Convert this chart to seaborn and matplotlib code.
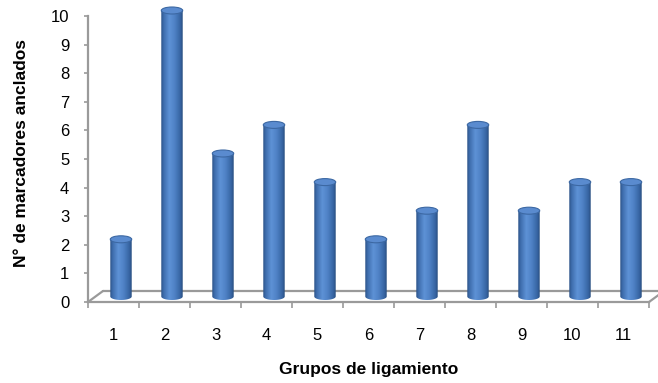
import numpy as np
import pandas as pd
import matplotlib
matplotlib.use("Agg")
import matplotlib.pyplot as plt
import seaborn as sns
from matplotlib.colors import LinearSegmentedColormap
from matplotlib.patches import Ellipse, PathPatch
from matplotlib.path import Path
from matplotlib.transforms import ScaledTranslation
from matplotlib.lines import Line2D

# Data
grupos = ["1", "2", "3", "4", "5", "6", "7", "8", "9", "10", "11"]
marcadores = [2, 10, 5, 6, 4, 2, 3, 6, 3, 4, 4]
y_ticks = list(range(0, 11))

sns.set_theme(style="white")
plt.rcParams["font.family"] = ["Liberation Sans", "DejaVu Sans"]

W, H = 658, 383
DPI = 100
fig = plt.figure(figsize=(W / DPI, H / DPI), dpi=DPI)

# plot area in pixels
x_left, x_right = 88, 649
y_zero = 302
px_per_unit = 28.6
y_top_val = 10.4
ax = fig.add_axes([x_left / W, (H - y_zero) / H,
                   (x_right - x_left) / W, y_top_val * px_per_unit / H])

df = pd.DataFrame({"grupo": grupos, "n": marcadores})
sns.barplot(data=df, x="grupo", y="n", color="#4F81BD", width=0.42,
            saturation=1, edgecolor="none", ax=ax)

grey = "#9A9A9A"
depth_px = (15, 11)
full_depth = ScaledTranslation(depth_px[0] / DPI, depth_px[1] / DPI, fig.dpi_scale_trans)
half_depth = ScaledTranslation(depth_px[0] / 2 / DPI, depth_px[1] / 2 / DPI, fig.dpi_scale_trans)

# floor: back edge and side diagonals
ax.plot([-0.5, 10.5], [0, 0], color=grey, lw=1.6, clip_on=False, zorder=1,
        transform=ax.transData + full_depth)
for xp in (x_left, x_right):
    fig.add_artist(Line2D([xp / W, (xp + depth_px[0]) / W],
                          [(H - y_zero) / H, (H - y_zero + depth_px[1]) / H],
                          color=grey, lw=1.6, transform=fig.transFigure))

# cylinder shading
cyl_cmap = LinearSegmentedColormap.from_list(
    "cyl", [(0.0, "#2B5286"), (0.12, "#3E6DAD"), (0.38, "#5E92D6"),
            (0.62, "#4F82C6"), (0.88, "#3765A3"), (1.0, "#284D7E")])
grad = np.linspace(0, 1, 128).reshape(1, -1)
ry = 3.5 / px_per_unit
tr = ax.transData + half_depth

for p in list(ax.patches):
    x0, w, h = p.get_x(), p.get_width(), p.get_height()
    xc = x0 + w / 2
    p.set_visible(False)
    t = np.linspace(np.pi, 2 * np.pi, 40)
    verts = [(x0, h), (x0, 0)]
    verts += list(zip(xc + (w / 2) * np.cos(t), ry * np.sin(t)))
    verts += [(x0 + w, 0), (x0 + w, h), (x0, h)]
    codes = [Path.MOVETO] + [Path.LINETO] * (len(verts) - 2) + [Path.CLOSEPOLY]
    body = PathPatch(Path(verts, codes), transform=tr, facecolor="none",
                     edgecolor="none")
    im = ax.imshow(grad, cmap=cyl_cmap, extent=[x0, x0 + w, -ry, h],
                   aspect="auto", transform=tr, zorder=3, interpolation="bilinear")
    im.set_clip_path(body)
    ax.add_patch(Ellipse((xc, h), w, 2 * ry, transform=tr, facecolor="#5A8BCF",
                         edgecolor="#3C68A3", lw=0.8, zorder=4, clip_on=False))

ax.set_xlim(-0.5, 10.5)
ax.set_ylim(0, y_top_val)
ax.set_yticks(y_ticks)
ax.set_yticklabels([str(v) for v in y_ticks])

for side in ("top", "right"):
    ax.spines[side].set_visible(False)
ax.spines["left"].set_bounds(0, 10)
ax.spines["left"].set_color(grey)
ax.spines["left"].set_linewidth(1.6)
ax.spines["bottom"].set_color(grey)
ax.spines["bottom"].set_linewidth(1.6)

ax.set_xticks(np.arange(-0.5, 11, 1), minor=True)
ax.tick_params(axis="x", which="major", length=0, pad=18.5, labelsize=12,
               labelcolor="black")
ax.tick_params(axis="x", which="minor", length=4.3, width=1.2, color=grey,
               direction="out", bottom=True)
ax.tick_params(axis="y", which="major", length=3, width=1.2, color=grey,
               direction="out", left=True, pad=10.5, labelsize=12,
               labelcolor="black")

ax.set_xlabel("Grupos de ligamiento", fontsize=12.5, fontweight="bold",
              labelpad=14, color="black")
ax.set_ylabel("N° de marcadores anclados", fontsize=12.5, fontweight="bold",
              labelpad=16, color="black")

fig.savefig("out.png", dpi=DPI)
